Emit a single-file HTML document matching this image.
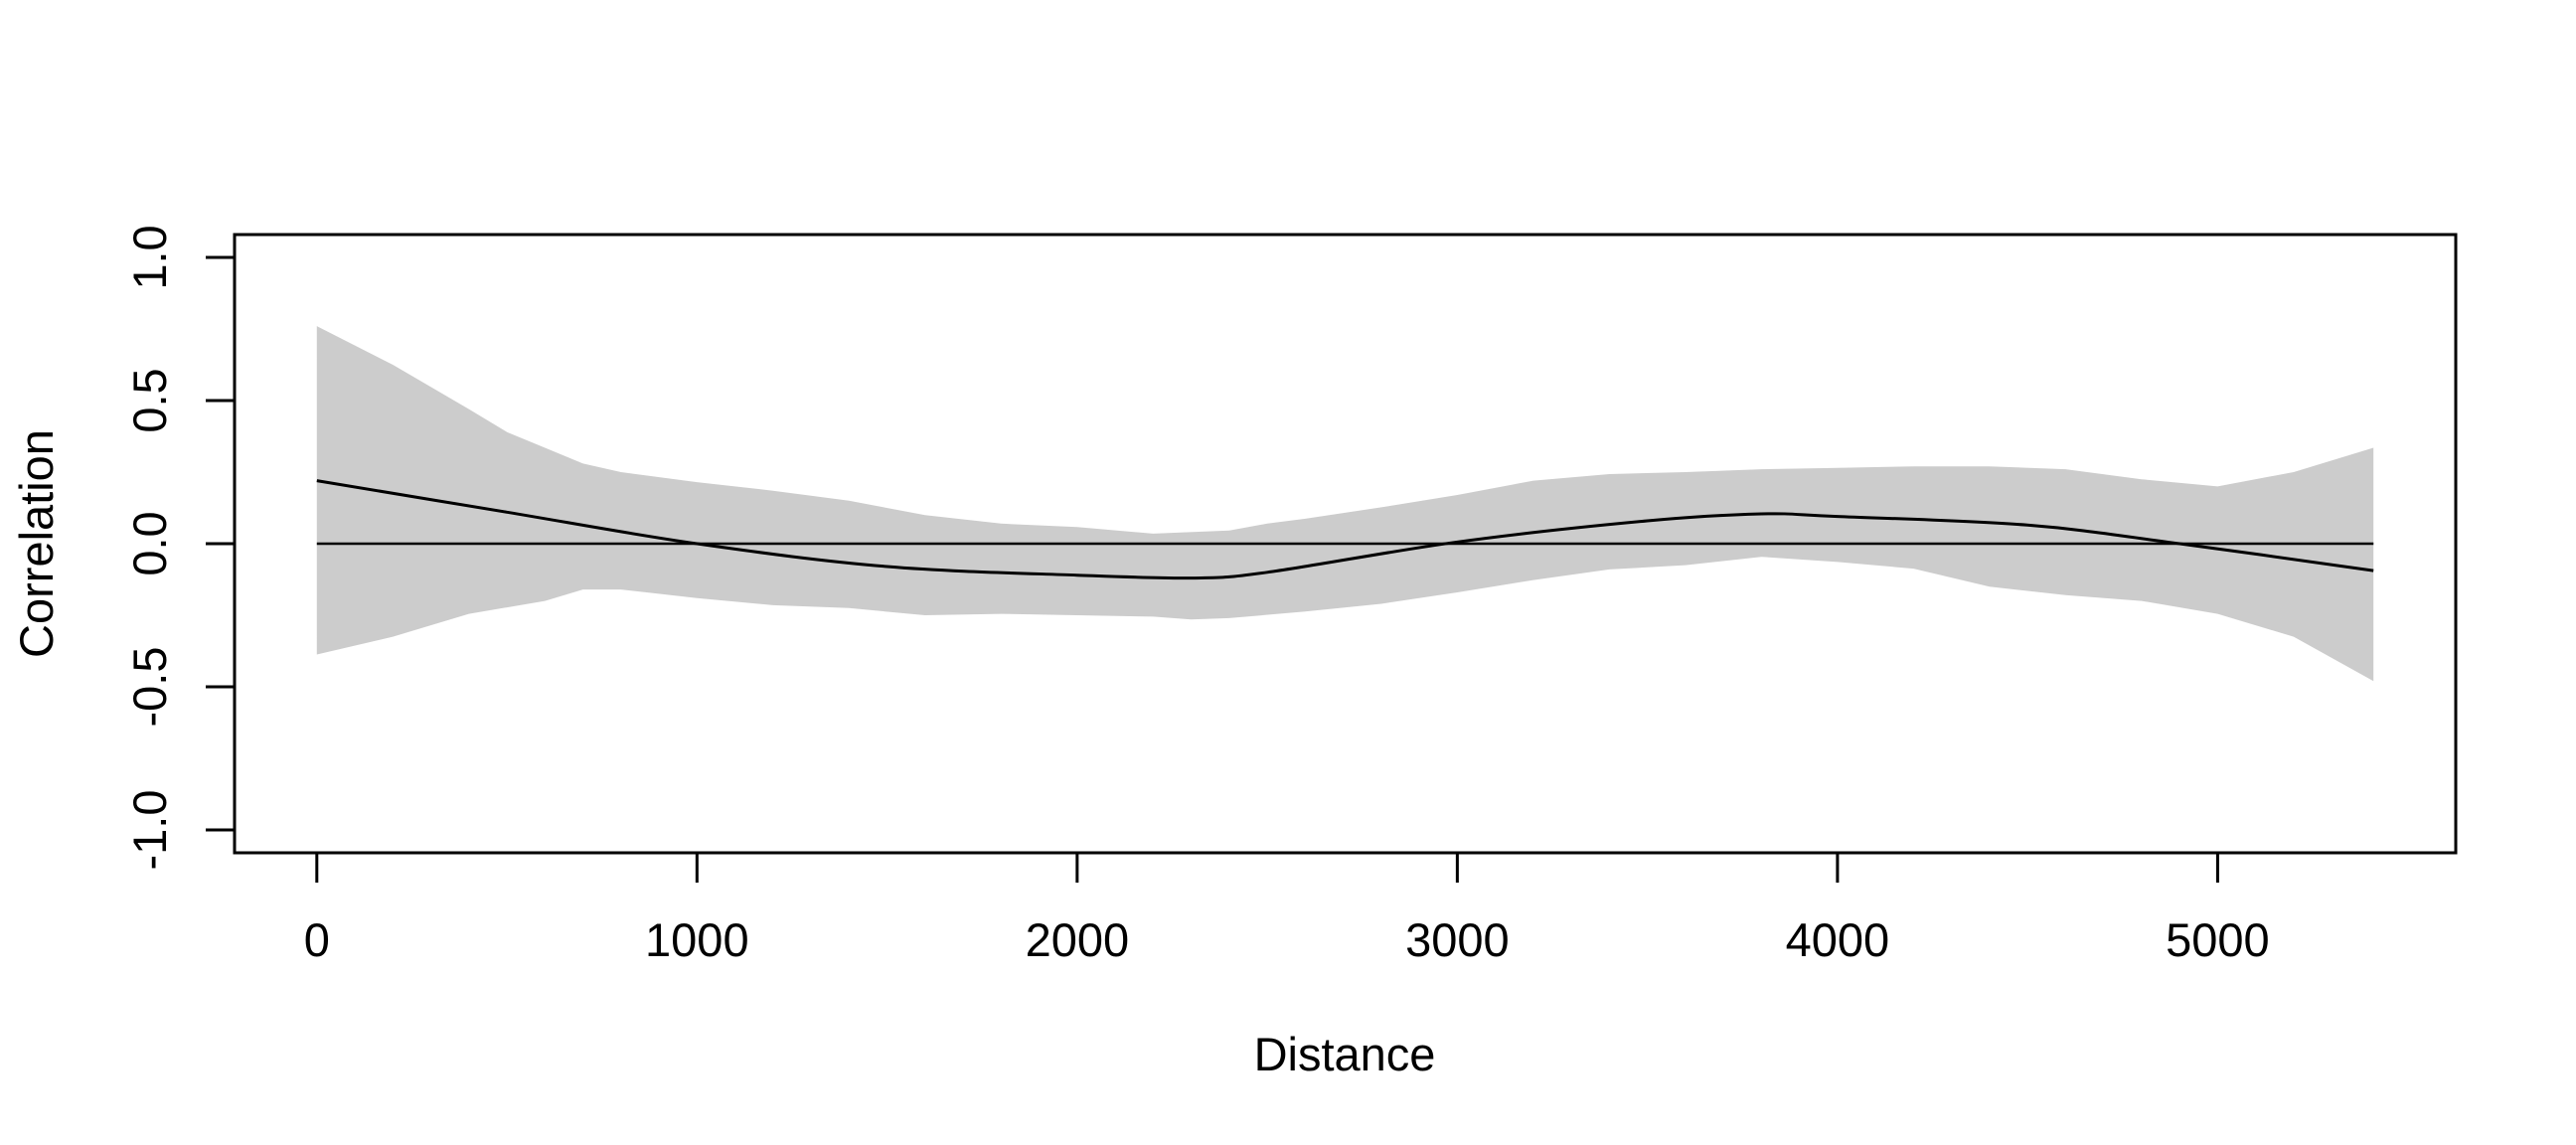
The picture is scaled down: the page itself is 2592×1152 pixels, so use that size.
<!DOCTYPE html>
<html><head><meta charset="utf-8"><style>
html,body{margin:0;padding:0;background:#fff;}
svg{display:block;font-family:"Liberation Sans",Arial,sans-serif;}
</style></head><body>
<svg id="chart" width="2592" height="1152" viewBox="0 0 2592 1152" xmlns="http://www.w3.org/2000/svg">
<rect x="0" y="0" width="2592" height="1152" fill="#fff"/>
<g id="band"></g>
<g id="lines"></g>
<rect x="236" y="236" width="2235" height="622" fill="none" stroke="#000" stroke-width="3"/>
<g id="axes"></g>
<text x="1353" y="1077" font-size="47" text-anchor="middle">Distance</text>
<text transform="translate(53,547) rotate(-90)" font-size="47" text-anchor="middle">Correlation</text>
</svg>
<script>
const xTicks=[0,1000,2000,3000,4000,5000];
const yTicks=[-1.0,-0.5,0.0,0.5,1.0];
const yTickLabels=["-1.0","-0.5","0.0","0.5","1.0"];
const upperX=[0,200,400,500,600,700,800,1000,1200,1400,1600,1800,2000,2200,2400,2500,2600,2800,3000,3200,3400,3600,3800,4000,4200,4400,4600,4800,5000,5200,5410];
const upperY=[0.76,0.625,0.47,0.39,0.335,0.28,0.25,0.215,0.185,0.15,0.10,0.07,0.058,0.035,0.046,0.07,0.087,0.127,0.17,0.22,0.243,0.25,0.26,0.265,0.27,0.27,0.26,0.225,0.2,0.25,0.335];
const lowerX=[0,200,400,600,700,800,1000,1200,1400,1600,1800,2000,2200,2300,2400,2600,2800,3000,3200,3400,3600,3800,4000,4200,4400,4600,4800,5000,5200,5410];
const lowerY=[-0.387,-0.325,-0.245,-0.2,-0.16,-0.16,-0.19,-0.215,-0.225,-0.25,-0.245,-0.25,-0.255,-0.265,-0.26,-0.237,-0.21,-0.17,-0.127,-0.09,-0.075,-0.046,-0.064,-0.087,-0.15,-0.18,-0.2,-0.245,-0.325,-0.48];
const lineX=[0,500,1000,1500,2000,2300,2500,3000,3500,3800,4000,4500,4900,5410];
const lineY=[0.22,0.11,0.0,-0.08,-0.11,-0.12,-0.1,0.006,0.08,0.104,0.095,0.065,0.0,-0.094];
const xMax=5410;

const X0=318.8, KX=(2471-236)/(1.08*xMax);
function sx(v){return X0+v*KX;}
function sy(v){return 547-v*288;}
const NS="http://www.w3.org/2000/svg";
function mk(tag,attrs,parent){const e=document.createElementNS(NS,tag);for(const k in attrs)e.setAttribute(k,attrs[k]);parent.appendChild(e);return e;}

const band=document.getElementById('band');
let pts=[];
for(let i=0;i<upperX.length;i++)pts.push(sx(upperX[i]).toFixed(1)+','+sy(upperY[i]).toFixed(1));
for(let i=lowerX.length-1;i>=0;i--)pts.push(sx(lowerX[i]).toFixed(1)+','+sy(lowerY[i]).toFixed(1));
const poly=mk('polygon',{points:pts.join(' '),fill:'#cccccc',stroke:'none'},band);



const lines=document.getElementById('lines');
const zero=mk('line',{x1:sx(0),x2:sx(xMax),y1:sy(0),y2:sy(0),stroke:'#000','stroke-width':2.5},lines);


// smooth Catmull-Rom path through the line points
const P=lineX.map((x,i)=>[sx(x),sy(lineY[i])]);
let d='M'+P[0][0].toFixed(1)+','+P[0][1].toFixed(1);
for(let i=0;i<P.length-1;i++){
  const p0=P[Math.max(0,i-1)],p1=P[i],p2=P[i+1],p3=P[Math.min(P.length-1,i+2)];
  const c1=[p1[0]+(p2[0]-p0[0])/6,p1[1]+(p2[1]-p0[1])/6];
  const c2=[p2[0]-(p3[0]-p1[0])/6,p2[1]-(p3[1]-p1[1])/6];
  d+=' C'+c1[0].toFixed(1)+','+c1[1].toFixed(1)+' '+c2[0].toFixed(1)+','+c2[1].toFixed(1)+' '+p2[0].toFixed(1)+','+p2[1].toFixed(1);
}
const pl=mk('path',{d:d,fill:'none',stroke:'#000','stroke-width':3,'stroke-linejoin':'round'},lines);



const axes=document.getElementById('axes');
const xa=mk('line',{x1:sx(xTicks[0]),x2:sx(xTicks[xTicks.length-1]),y1:858,y2:858,stroke:'#000','stroke-width':3},axes);


xTicks.forEach(t=>{
  const tk=mk('line',{x1:sx(t),x2:sx(t),y1:858,y2:888,stroke:'#000','stroke-width':3},axes);
  
  
  const tx=mk('text',{x:sx(t),y:962,'font-size':47,'text-anchor':'middle'},axes);
  tx.textContent=String(t);
  
  
});
const ya=mk('line',{x1:236,x2:236,y1:sy(yTicks[0]),y2:sy(yTicks[yTicks.length-1]),stroke:'#000','stroke-width':3},axes);


yTicks.forEach((t,i)=>{
  const tk=mk('line',{x1:207,x2:236,y1:sy(t),y2:sy(t),stroke:'#000','stroke-width':3},axes);
  
  
  const tx=mk('text',{transform:'translate(167,'+sy(t)+') rotate(-90)','font-size':47,'text-anchor':'middle'},axes);
  tx.textContent=yTickLabels[i];
  
  
});
</script>
</body></html>
